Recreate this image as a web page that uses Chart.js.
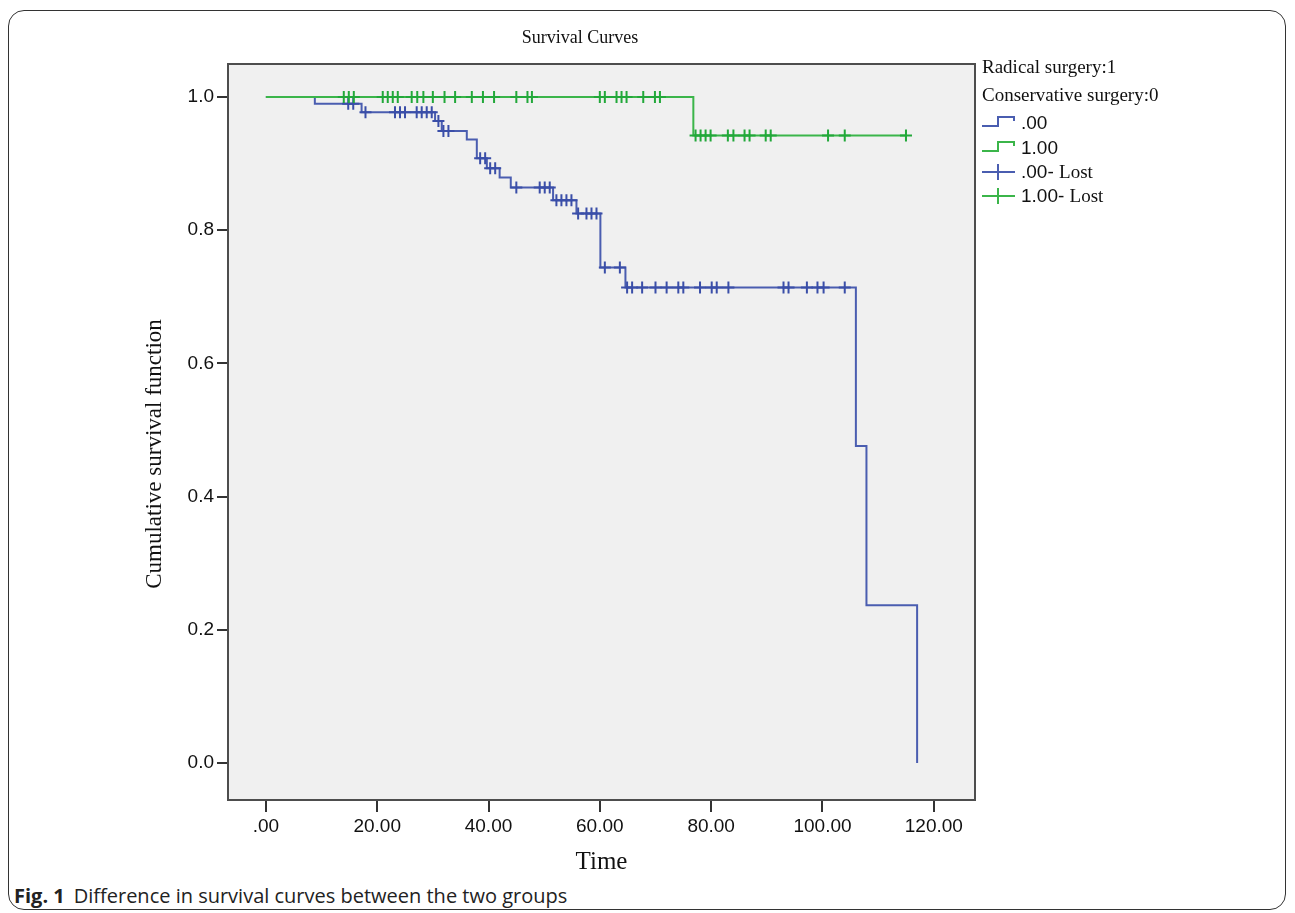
<!DOCTYPE html>
<html>
<head>
<meta charset="utf-8">
<script src="https://cdn.jsdelivr.net/npm/chart.js@4.4.1/dist/chart.umd.min.js"></script>
<style>
body{margin:0;background:#fff;width:1295px;height:913px;overflow:hidden;position:relative;}
#card{position:absolute;left:8px;top:10px;width:1278px;height:900px;border:1px solid #333;border-radius:16px;box-sizing:border-box;}
#wrap{position:absolute;left:0;top:0;width:1160px;height:880px;}
.lg{position:absolute;left:982px;height:24px;line-height:24px;white-space:nowrap;color:#111;}
.serif{font-family:"Liberation Serif",serif;font-size:19px;}
.sans{font-family:"Liberation Sans",Arial,sans-serif;font-size:19px;}
.lg svg{position:absolute;left:0;top:0;}
.lg .txt{position:absolute;left:39px;top:0;}
#caption{position:absolute;left:14px;top:882px;font-family:"Open Sans",sans-serif;font-size:20px;line-height:27px;color:#222;white-space:nowrap;}
#caption b{font-weight:700;margin-right:9px;}
</style>
</head>
<body>
<div id="card"></div>
<div id="wrap"><canvas id="grafico" width="1160" height="880"></canvas></div>

<div class="lg serif" style="top:55px">Radical surgery:1</div>
<div class="lg serif" style="top:83px">Conservative surgery:0</div>
<div class="lg" style="top:111px">
  <svg width="36" height="24"><path d="M0 15 H16 V6 H32 V10" fill="none" stroke="#4a5db0" stroke-width="2"/></svg>
  <span class="txt sans">.00</span>
</div>
<div class="lg" style="top:136px">
  <svg width="36" height="24"><path d="M0 15 H16 V6 H32 V10" fill="none" stroke="#3bb54a" stroke-width="2"/></svg>
  <span class="txt sans">1.00</span>
</div>
<div class="lg" style="top:160px">
  <svg width="36" height="24"><path d="M0 12 H33 M16 4 V20" fill="none" stroke="#4a5db0" stroke-width="2"/></svg>
  <span class="txt"><span class="sans">.00- </span><span class="serif">Lost</span></span>
</div>
<div class="lg" style="top:184px">
  <svg width="36" height="24"><path d="M0 12 H33 M16 4 V20" fill="none" stroke="#3bb54a" stroke-width="2"/></svg>
  <span class="txt"><span class="sans">1.00- </span><span class="serif">Lost</span></span>
</div>

<div id="caption"><b>Fig. 1</b>Difference in survival curves between the two groups</div>

<script>
// curvas de supervivencia (tiempo del evento, supervivencia tras el evento)
const conservTiempos = [0, 8.8, 17.2, 30.4, 31.6, 36.1, 37.9, 39.7, 42.0, 44.0, 51.6, 55.8, 60.1, 64.6, 106.0, 107.9, 117.0];
const conservSuperv  = [1.0, 0.990, 0.977, 0.964, 0.949, 0.936, 0.908, 0.893, 0.879, 0.864, 0.845, 0.825, 0.744, 0.714, 0.476, 0.237, 0.0];
const radicalTiempos = [0, 76.8, 115.0];
const radicalSuperv  = [1.0, 0.942, 0.942];

// casos perdidos (censurados)
const conservPerdidos = [14.8, 15.7, 17.9, 23.2, 24.1, 25.0, 27.1, 28.0, 28.9, 29.8, 31.0, 31.9, 32.8,
  38.5, 39.4, 40.3, 41.2, 45.0, 49.2, 50.1, 51.0, 52.2, 53.1, 54.0, 54.9, 56.1, 57.6, 58.5, 59.4,
  60.9, 63.6, 64.9, 65.8, 67.6, 70.0, 72.0, 74.1, 75.0, 78.0, 80.1, 81.0, 83.1, 93.0, 93.9, 97.2, 99.1, 100.2, 104.0];
const radicalPerdidos = [14.0, 14.9, 15.8, 21.0, 21.9, 22.8, 23.7, 26.2, 27.2, 28.3, 30.0, 32.1, 34.0, 37.0,
  39.0, 41.0, 45.0, 47.0, 47.8, 60.0, 60.9, 63.0, 63.9, 64.8, 67.8, 69.9, 70.8,
  77.2, 78.1, 79.0, 79.9, 83.0, 84.0, 86.0, 86.9, 89.8, 90.7, 101.0, 104.0, 115.0];

const xTicks = [0, 20, 40, 60, 80, 100, 120];
const yTicks = [0, 0.2, 0.4, 0.6, 0.8, 1.0];

const azul = '#4a5db0', azulMarca = '#3a4ea8';
const verde = '#3bb54a', verdeMarca = '#22a83a';

// valor de la curva escalonada en el tiempo t
function supervEn(tiempos, superv, t){
    let s = superv[0];
    for(let i=0;i<tiempos.length;i++){ if(tiempos[i] <= t) s = superv[i]; }
    return s;
}
const puntos = (ts, ss) => ts.map((t,i)=>({x:t, y:ss[i]}));
const marcas = (ps, ts, ss) => ps.map(t=>({x:t, y:supervEn(ts, ss, t)}));

// fondo gris y marco del área
const marco = {
    id:'marco',
    beforeDatasetsDraw(chart){
        const {ctx, chartArea:a} = chart;
        ctx.save();
        ctx.fillStyle = '#f0f0f0';
        ctx.fillRect(a.left, a.top, a.width, a.height);
        ctx.restore();
    },
    afterDraw(chart){
        const {ctx, chartArea:a} = chart;
        ctx.save();
        ctx.strokeStyle = '#4d4d4d';
        ctx.lineWidth = 2;
        ctx.strokeRect(a.left, a.top, a.width, a.height);
        // título del eje Y
        ctx.translate(155, 454);
        ctx.rotate(-Math.PI/2);
        ctx.fillStyle = '#111';
        ctx.font = '23px "Liberation Serif", serif';
        ctx.textAlign = 'center';
        ctx.textBaseline = 'middle';
        ctx.fillText('Cumulative survival function', 0, 0);
        ctx.restore();
    }
};

const fuenteTicks = {family:'"Liberation Sans", Arial, sans-serif', size:19};

new Chart(document.getElementById('grafico').getContext('2d'), {
    type:'scatter',
    data:{
        datasets:[
            {label:'1.00', data:puntos(radicalTiempos, radicalSuperv), showLine:true, stepped:'before',
             borderColor:verde, borderWidth:2, pointRadius:0, order:1},
            {label:'1.00- Lost', data:marcas(radicalPerdidos, radicalTiempos, radicalSuperv), showLine:false,
             pointStyle:'cross', pointRadius:6, borderColor:verdeMarca, borderWidth:2, order:0},
            {label:'.00', data:puntos(conservTiempos, conservSuperv), showLine:true, stepped:'before',
             borderColor:azul, borderWidth:2, pointRadius:0, order:3},
            {label:'.00- Lost', data:marcas(conservPerdidos, conservTiempos, conservSuperv), showLine:false,
             pointStyle:'cross', pointRadius:6, borderColor:azulMarca, borderWidth:2, order:2}
        ]
    },
    options:{
        responsive:false,
        animation:false,
        layout:{padding:{left:185, right:185, top:0, bottom:0}},
        plugins:{
            legend:{display:false},
            tooltip:{enabled:false},
            title:{display:true, text:'Survival Curves', color:'#111',
                   font:{family:'"Liberation Serif", serif', size:18, weight:'normal'},
                   padding:{top:27, bottom:15.4}}
        },
        scales:{
            x:{
                type:'linear', min:-6.8, max:127.4,
                afterBuildTicks: s => { s.ticks = xTicks.map(v=>({value:v})); },
                afterFit: s => { s.height = 80; },
                ticks:{callback: v => v===0 ? '.00' : v.toFixed(2), font:fuenteTicks, color:'#111',
                       padding:3, maxRotation:0, autoSkip:false},
                grid:{drawOnChartArea:false, drawTicks:true, tickLength:12, color:'#333', lineWidth:2},
                border:{display:false},
                title:{display:true, text:'Time', color:'#111',
                       font:{family:'"Liberation Serif", serif', size:25}, padding:{top:0, bottom:3}}
            },
            y:{
                type:'linear', min:-0.0556, max:1.0495,
                afterBuildTicks: s => { s.ticks = yTicks.map(v=>({value:v})); },
                afterFit: s => { s.width = 43; },
                ticks:{callback: v => v.toFixed(1), font:fuenteTicks, color:'#111', padding:3, autoSkip:false},
                grid:{drawOnChartArea:false, drawTicks:true, tickLength:11, color:'#333', lineWidth:2},
                border:{display:false}
            }
        }
    },
    plugins:[marco]
});
</script>
</body>
</html>
